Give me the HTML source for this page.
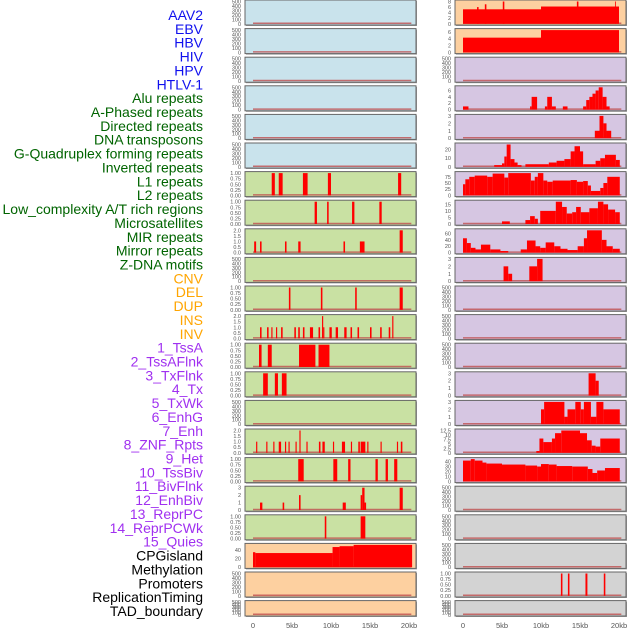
<!DOCTYPE html>
<html><head><meta charset="utf-8"><style>
html,body{margin:0;padding:0;background:#fff;}
svg{display:block;font-family:"Liberation Sans",sans-serif;}
</style></head><body>
<svg id="chart" width="630" height="630" viewBox="0 0 630 630" xmlns="http://www.w3.org/2000/svg">
<g id="labels"></g>
<g id="panels"></g>
<g id="xaxes"></g>
</svg>
<script>
// ---- data ----
const trackLabels = ["AAV2","EBV","HBV","HIV","HPV","HTLV-1","Alu repeats","A-Phased repeats","Directed repeats","DNA transposons","G-Quadruplex forming repeats","Inverted repeats","L1 repeats","L2 repeats","Low_complexity A/T rich regions","Microsatellites","MIR repeats","Mirror repeats","Z-DNA motifs","CNV","DEL","DUP","INS","INV","1_TssA","2_TssAFlnk","3_TxFlnk","4_Tx","5_TxWk","6_EnhG","7_Enh","8_ZNF_Rpts","9_Het","10_TssBiv","11_BivFlnk","12_EnhBiv","13_ReprPC","14_ReprPCWk","15_Quies","CPGisland","Methylation","Promoters","ReplicationTiming","TAD_boundary"];
const labelGroups = [6,13,5,15,5];
const groupColors = ["#1010ee","#006400","#ffa500","#a030f0","#000000"];
const xTickValues = [0,5,10,15,20];
const xTickLabels = ["0","5kb","10kb","15kb","20kb"];

const ticks500 = [0,100,200,300,400,500];
const ticks1 = [0,0.25,0.5,0.75,1.0];
const ticks2 = [0,0.5,1.0,1.5,2.0];
const ticks3 = [0,1,2,3];

// left column segments [startKb, endKb, value]
const left6 = [[2.4,2.8,1],[3.3,3.8,1],[6.4,7.0,1],[9.6,10.0,1],[18.6,19.0,1]];
const left7 = [[7.9,8.2,1],[9.5,9.7,1],[12.7,13.0,1],[16.2,16.5,1]];
const left8 = [[0.15,0.4,1],[0.9,1.1,1],[4.1,4.3,1],[5.8,6.1,1],[11.6,11.8,1],[13.7,14.3,1],[18.8,19.2,2]];
const left10 = [[4.6,4.8,1],[8.7,8.9,1],[13.1,13.3,1],[18.8,19.2,1]];
const left11 = [[0.9,1.1,1],[1.8,2.0,1],[2.35,2.5,1],[2.95,3.1,1],[3.6,3.8,1],[5.3,5.5,1],[5.8,6.0,1],[6.4,6.6,1],[7.3,7.7,1],[8.4,8.6,1],[8.85,9.0,2],[9.0,9.15,1],[9.8,10.1,1],[10.6,10.9,1],[11.7,12.0,1],[12.5,12.7,1],[13.4,13.6,1],[15.0,15.2,1],[16.3,16.5,1],[17.4,17.6,1],[17.85,18.0,2]];
const left12 = [[0.77,1.1,1],[1.9,2.4,1],[5.9,8.0,1],[8.4,9.8,1]];
const left13 = [[1.3,1.9,1],[2.8,3.2,1],[3.7,4.3,1]];
const left15 = [[0.4,0.55,1],[1.7,1.85,1],[2.6,2.75,1],[3.3,3.6,1],[4.1,4.25,1],[4.55,4.7,1],[5.45,5.6,1],[5.95,6.1,2],[6.85,7.0,1],[8.45,8.65,1],[8.9,9.2,1],[10.25,10.4,1],[11.4,11.8,1],[12.55,12.7,1],[13.5,13.7,1],[13.8,14.4,1],[14.65,14.8,1],[16.35,16.5,1],[18.45,18.6,1],[18.95,19.15,1]];
const left16 = [[5.8,6.5,1],[10.3,10.8,1],[12.2,12.5,1],[15.7,16.0,1],[17.0,17.3,1],[18.1,18.5,1]];
const left17 = [[0.9,1.2,1],[3.8,4.0,1],[5.9,6.1,2],[11.5,11.9,1],[13.8,14.0,2],[14.0,14.3,3],[14.3,14.5,1],[18.8,19.2,3]];
const left18 = [[9.2,9.4,1],[13.8,14.4,1]];
const left19 = [[0,0.3,35],[0.3,10.2,33],[10.2,11.1,47],[11.1,12.9,49],[12.9,20.4,52]];

// right column segments
const right0 = [[0,10,5.2],[1.8,2.0,6],[2.8,3.0,7],[5.1,5.3,8],[10,20,6.2],[14.6,14.8,8],[19.5,19.6,8]];
const right1 = [[0,10,4.3],[10,20,6.5]];
const right3 = [[0,0.7,1],[8.8,9.5,4],[8.6,8.8,1],[10.5,10.8,1],[10.8,11.4,4],[11.4,11.9,1],[12.8,13.4,1],[15.4,15.8,1],[15.8,16.2,3],[16.2,16.6,4],[16.6,17.0,5],[17.0,17.4,6],[17.4,17.9,7],[17.9,18.4,4],[18.4,18.8,1]];
const right4 = [[16.9,17.5,1],[17.5,18.0,3],[18.0,18.4,2],[18.4,19.0,1]];
const right5 = [[4,5,2],[5,5.3,4],[5.3,5.6,12],[5.6,6.1,26],[6.1,6.6,9],[6.6,7.0,5],[7.0,7.5,2],[8,11,3],[11,12,5],[12,13,7],[13,13.8,9],[13.8,14.3,18],[14.3,15.0,24],[15.0,15.4,18],[15.4,17.0,3],[17.0,17.6,7],[17.6,18.2,10],[18.2,19.6,14],[19.6,20.1,8]];
const right6 = [[0,0.3,45],[0.3,0.8,65],[0.8,1.5,75],[1.5,3.1,80],[3.1,3.8,75],[3.8,5.3,88],[5.3,5.8,72],[5.8,8.7,90],[8.7,9.2,60],[9.2,9.6,75],[9.6,10.3,90],[10.3,10.8,60],[10.8,11.5,55],[11.5,13.8,60],[13.8,14.6,62],[14.6,15.4,55],[15.4,16.0,58],[16.0,16.4,40],[16.4,17.6,18],[17.6,18.0,30],[18.0,18.5,50],[18.5,20.1,75]];
const right7 = [[5.0,6.0,2],[8.0,8.6,3],[8.6,9.2,6],[9.2,9.6,4],[9.9,11.9,10],[11.9,12.7,17],[12.7,13.3,13],[13.3,14.0,8],[14.0,14.5,9],[14.5,15.1,13],[15.1,16.2,9],[16.2,17.3,12],[17.3,18.0,17],[18.0,18.6,15],[18.6,19.5,11],[19.5,20.1,9]];
const right8 = [[0,0.5,45],[0.5,1.0,30],[1.0,1.6,15],[1.6,2.3,10],[2.3,3.5,25],[3.5,4.8,10],[4.8,5.8,5],[7.4,8.2,10],[8.2,9.3,38],[9.3,9.9,20],[9.9,10.6,15],[10.6,11.7,32],[11.7,12.5,20],[12.5,13.4,12],[13.4,14.7,8],[14.7,15.5,20],[15.5,15.9,45],[15.9,17.8,70],[17.8,18.4,40],[18.4,19.2,20],[19.2,20.1,12]];
const right9 = [[5.2,5.8,2],[5.8,6.3,1],[8.5,9.5,2],[9.5,10.2,3]];
const right13 = [[16.1,17.0,3],[17.0,17.4,2]];
const right14 = [[10.0,10.4,2],[10.4,13.0,3],[13.0,13.4,1],[13.4,14.4,2],[14.4,15.1,3],[15.1,15.5,2],[15.5,16.4,3],[16.4,17.1,1],[17.1,18.0,3],[18.0,20.1,2]];
const right15 = [[9.4,9.8,1],[9.8,10.3,8],[10.3,11.4,6],[11.4,11.8,8],[11.8,12.6,11],[12.6,15.0,12.5],[15.0,15.9,11],[15.9,16.5,7],[16.5,17.0,4],[17.0,17.6,3.5],[17.6,20.1,8]];
const right16 = [[0,1,42],[1,1.5,45],[1.5,2.5,42],[2.5,3,38],[3,5,36],[5,8,34],[8,9.5,32],[9.5,10,30],[10,11,35],[11,12,34],[12,14,31],[14,16,30],[16,16.6,25],[16.6,17.2,17],[17.2,18.2,22],[18.2,20.1,27]];
const right20 = [[12.55,12.75,1],[13.45,13.65,1],[15.7,15.95,1],[18.05,18.25,1]];

const BLUE="#c9e3ec", GREEN="#c9e1a3", ORANGE="#fdd0a0", PURPLE="#d6c6e2", GRAY="#d3d3d3";

const leftPanels = [
 {bg:BLUE,max:500,ticks:ticks500,segs:[]},{bg:BLUE,max:500,ticks:ticks500,segs:[]},{bg:BLUE,max:500,ticks:ticks500,segs:[]},
 {bg:BLUE,max:500,ticks:ticks500,segs:[]},{bg:BLUE,max:500,ticks:ticks500,segs:[]},{bg:BLUE,max:500,ticks:ticks500,segs:[]},
 {bg:GREEN,max:1,ticks:ticks1,segs:left6},{bg:GREEN,max:1,ticks:ticks1,segs:left7},{bg:GREEN,max:2,ticks:ticks2,segs:left8},
 {bg:GREEN,max:500,ticks:ticks500,segs:[]},{bg:GREEN,max:1,ticks:ticks1,segs:left10},{bg:GREEN,max:2,ticks:ticks2,segs:left11},
 {bg:GREEN,max:1,ticks:ticks1,segs:left12},{bg:GREEN,max:1,ticks:ticks1,segs:left13},{bg:GREEN,max:500,ticks:ticks500,segs:[]},
 {bg:GREEN,max:2,ticks:ticks2,segs:left15},{bg:GREEN,max:1,ticks:ticks1,segs:left16},{bg:GREEN,max:3,ticks:ticks3,segs:left17},
 {bg:GREEN,max:1,ticks:ticks1,segs:left18},{bg:ORANGE,max:52,ticks:[0,20,40],segs:left19},
 {bg:ORANGE,max:500,ticks:ticks500,segs:[]},{bg:ORANGE,max:500,ticks:ticks500,segs:[]}
];
const rightPanels = [
 {bg:ORANGE,max:8,ticks:[0,2,4,6,8],segs:right0},{bg:ORANGE,max:6.5,ticks:[0,2,4,6],segs:right1},
 {bg:PURPLE,max:500,ticks:ticks500,segs:[]},{bg:PURPLE,max:7,ticks:[0,2,4,6],segs:right3},
 {bg:PURPLE,max:3,ticks:ticks3,segs:right4},{bg:PURPLE,max:26,ticks:[0,10,20],segs:right5},
 {bg:PURPLE,max:90,ticks:[0,25,50,75],segs:right6},{bg:PURPLE,max:17,ticks:[0,5,10,15],segs:right7},
 {bg:PURPLE,max:70,ticks:[0,20,40,60],segs:right8},{bg:PURPLE,max:3,ticks:ticks3,segs:right9},
 {bg:PURPLE,max:500,ticks:ticks500,segs:[]},{bg:PURPLE,max:500,ticks:ticks500,segs:[]},{bg:PURPLE,max:500,ticks:ticks500,segs:[]},
 {bg:PURPLE,max:3,ticks:ticks3,segs:right13},{bg:PURPLE,max:3,ticks:ticks3,segs:right14},
 {bg:PURPLE,max:12.5,ticks:[0,2.5,5,7.5,10,12.5],segs:right15},{bg:PURPLE,max:45,ticks:[0,10,20,30,40],segs:right16},
 {bg:GRAY,max:500,ticks:ticks500,segs:[]},{bg:GRAY,max:500,ticks:ticks500,segs:[]},{bg:GRAY,max:500,ticks:ticks500,segs:[]},
 {bg:GRAY,max:1,ticks:ticks1,segs:right20},{bg:GRAY,max:500,ticks:ticks500,segs:[]}
];

// ---- render ----
const NS="http://www.w3.org/2000/svg";
function mk(tag,attrs,parent){const e=document.createElementNS(NS,tag);for(const k in attrs)e.setAttribute(k,attrs[k]);parent.appendChild(e);return e;}

const labelsG=document.getElementById('labels');
let li=0;
labelGroups.forEach((n,gi)=>{for(let j=0;j<n;j++){
  const t=mk('text',{x:203,y:15+li*13.86+5,'text-anchor':'end','font-size':'14',fill:groupColors[gi]},labelsG);
  t.textContent=trackLabels[li];
  
  
  li++;}});

const cols=[{x0:245,w:171,zero:253,panels:leftPanels,name:'left'},{x0:455,w:171,zero:463,panels:rightPanels,name:'right'}];
const pxPerKb=7.8;
const panelsG=document.getElementById('panels');
cols.forEach(col=>{
  const xs=kb=>col.zero+kb*pxPerKb;
  col.panels.forEach((p,i)=>{
    const top=i*28.6, h=(i===21)?15.4:25;
    const g=mk('g',{},panelsG);
    
    
    mk('rect',{x:col.x0+1,y:top+1,width:col.w,height:h,fill:'#999'},g);
    const bg=mk('rect',{x:col.x0,y:top,width:col.w,height:h,fill:p.bg,stroke:'#666','stroke-width':1},g);
    
    
    const yTop=top+1.5, yZero=top+h-1.2;
    const ys=v=>yZero-(v/p.max)*(yZero-yTop);
    mk('line',{x1:xs(0),x2:xs(20.3),y1:yZero-0.5,y2:yZero-0.5,stroke:'#c05050','stroke-width':1.5,opacity:0.8},g);
    p.segs.forEach(s=>{
      const y=ys(s[2]);
      const r=mk('rect',{x:xs(s[0]),y:y,width:Math.max(0.8,xs(s[1])-xs(s[0])),height:yZero-y,fill:'#ff0000'},g);
      
      
    });
    p.ticks.forEach(tv=>{
      const t=mk('text',{x:col.x0-4,y:ys(tv)+2,'text-anchor':'end','font-size':'5.5',fill:'#555'},g);
      t.textContent=(p.ticks===ticks1)?tv.toFixed(2):(p.ticks===ticks2?tv.toFixed(1):String(tv));
      
      
    });
  });
  const xg=document.getElementById('xaxes');
  xTickValues.forEach((v,k)=>{
    const t=mk('text',{x:xs(v),y:628,'text-anchor':'middle','font-size':'7.5',fill:'#555'},xg);
    t.textContent=xTickLabels[k];
    
    
  });
});
</script>
</body></html>
